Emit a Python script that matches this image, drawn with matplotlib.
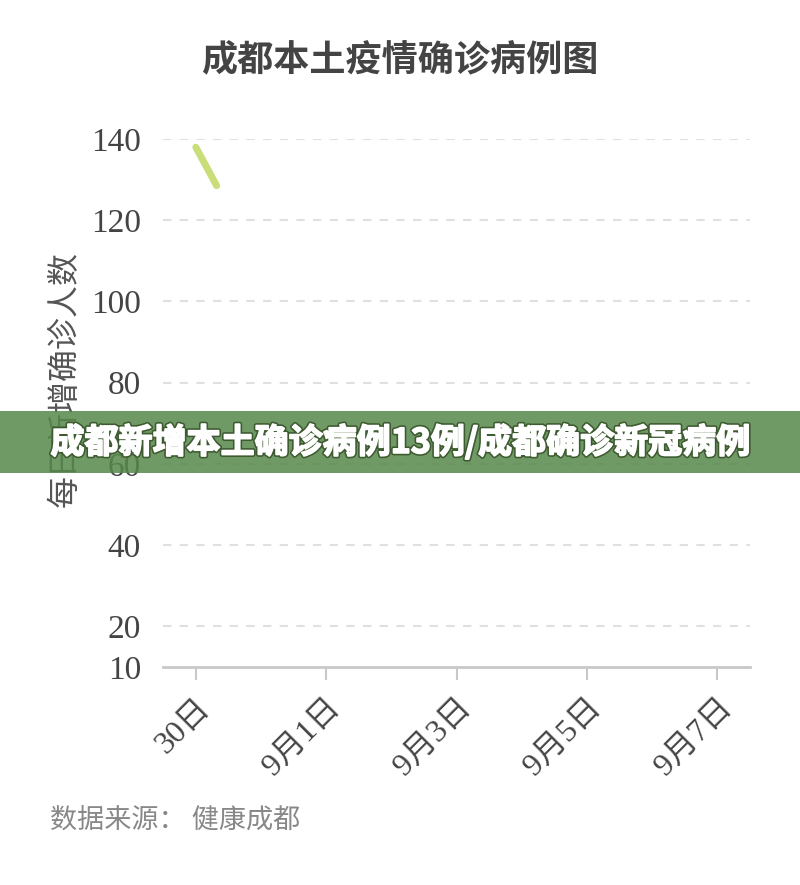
import matplotlib.pyplot as plt
from matplotlib.patches import Rectangle
import matplotlib.patheffects as pe

plt.rcParams['font.family'] = ['Liberation Serif', 'Noto Sans CJK SC']

# data (x in days after Aug 30)
day_pos = [0, 2, 4, 6, 8]
day_labels = ['30日', '9月1日', '9月3日', '9月5日', '9月7日']
seg_x = [0.0, 0.32]
seg_y = [138, 128.5]
yticks = [10, 20, 40, 60, 80, 100, 120, 140]

fig = plt.figure(figsize=(8, 8.85), dpi=100)
ax = fig.add_axes([0.204, 0.2463, 0.7335, 0.5966])

ax.plot(seg_x, seg_y, color='#c9dd78', lw=5, solid_capstyle='round', clip_on=False)

ax.set_xlim(-0.5, 8.5)
ax.set_ylim(10, 140)
ax.set_yticks(yticks)
ax.set_yticklabels([str(v) for v in yticks], fontsize=24, color='#444444')
ax.set_xticks(day_pos)
ax.set_xticklabels(day_labels, fontsize=23, color='#444444', rotation=45,
                   ha='right', va='top', rotation_mode='anchor')
ax.tick_params(axis='y', length=0, pad=16)
ax.tick_params(axis='x', length=9, width=1.5, color='#c8c8c8', pad=10)

for v in yticks[1:]:
    ax.axhline(v, color='#e0e0e0', lw=1.5, ls=(0, (4, 4)), zorder=0)
for s in ['top', 'right', 'left']:
    ax.spines[s].set_visible(False)
ax.spines['bottom'].set_color('#c8c8c8')
ax.spines['bottom'].set_linewidth(2)

ax.set_ylabel('每日新增确诊人数', fontsize=23, color='#555555',
              family=['Noto Sans CJK SC'])
ax.yaxis.set_label_coords(-0.14, 0.545)

fig.text(0.5, 1 - 60 / 885, '成都本土疫情确诊病例图', ha='center', va='center',
         fontsize=26, color='#444444', family=['Noto Sans CJK SC'], weight='bold')
fig.text(50 / 800, 1 - 820 / 885, '数据来源： 健康成都', ha='left', va='center',
         fontsize=19.5, color='#888888', family=['Noto Sans CJK SC'])

# green banner overlay
fig.patches.append(Rectangle((0, 1 - 473 / 885), 1, 62 / 885, transform=fig.transFigure,
                             facecolor='#57884a', alpha=0.85, edgecolor='none', zorder=5))
fig.text(0.5, 1 - 442 / 885, '成都新增本土确诊病例13例/成都确诊新冠病例', ha='center', va='center',
         fontsize=24.5, color='white', weight='bold', family=['Noto Sans CJK SC'], zorder=6,
         path_effects=[pe.Stroke(linewidth=3.5, foreground='#3d5a30'),
                       pe.Stroke(linewidth=1.2, foreground='white'), pe.Normal()])

fig.savefig('out.png', dpi=100)
